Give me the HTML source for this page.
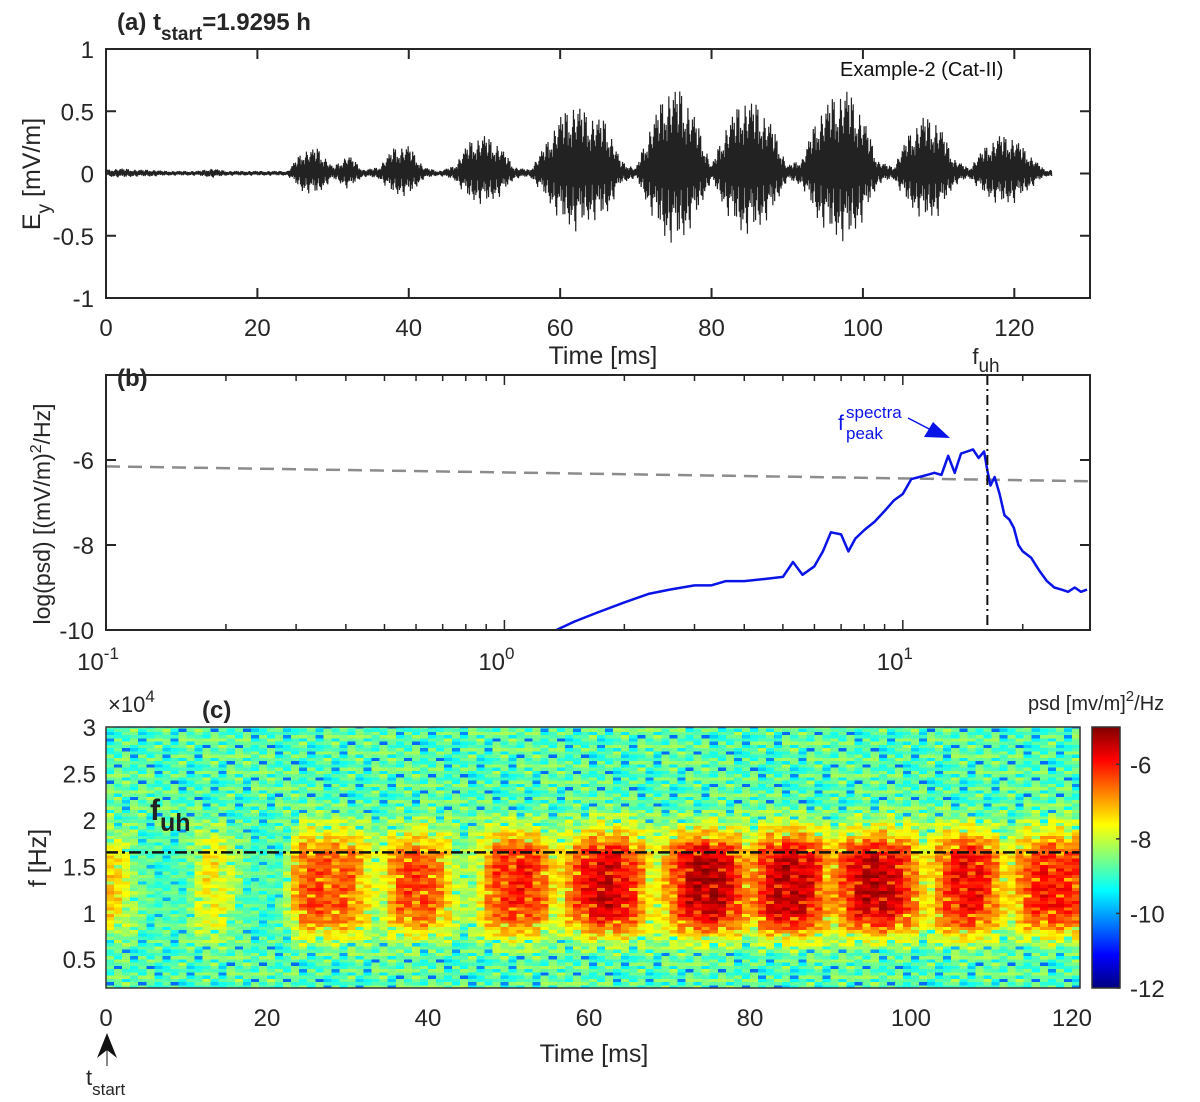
<!DOCTYPE html>
<html><head><meta charset="utf-8">
<style>
html,body{margin:0;padding:0;background:#fff;}
svg{display:block;font-family:"Liberation Sans",Arial,sans-serif;}
</style></head>
<body>
<svg id="fig" width="1200" height="1102" viewBox="0 0 1200 1102" xmlns="http://www.w3.org/2000/svg">
  <g id="pa"></g>
  <g id="pb"></g>
  <g id="pc"></g>
</svg>
<script>
// ---------- Panel (a) data: envelope amplitude of Ey every 2 ms ----------
const waveTimes = [0,2,4,6,8,10,12,14,16,18,20,22,24,26,28,30,32,34,36,38,40,42,44,46,48,50,52,54,56,58,60,62,64,66,68,70,72,74,76,78,80,82,84,86,88,90,92,94,96,98,100,102,104,106,108,110,112,114,116,118,120,122,124];
const waveEnv = [0.03,0.04,0.03,0.03,0.02,0.02,0.02,0.04,0.02,0.02,0.02,0.02,0.02,0.18,0.2,0.05,0.15,0.03,0.05,0.2,0.22,0.05,0.02,0.06,0.25,0.3,0.22,0.05,0.03,0.22,0.45,0.55,0.45,0.42,0.1,0.04,0.38,0.65,0.66,0.42,0.06,0.38,0.58,0.55,0.38,0.06,0.12,0.45,0.6,0.66,0.45,0.1,0.05,0.3,0.45,0.4,0.12,0.04,0.2,0.3,0.28,0.15,0.03];
const waveXTicks = [0,20,40,60,80,100,120];
const waveYTicks = [-1,-0.5,0,0.5,1];
const waveYLabels = ["-1","-0.5","0","0.5","1"];
const waveTexture = [1,0.6,0.85,0.5,0.95,0.7,0.45,0.9,0.65,0.8,0.55,1,0.6,0.75,0.4,0.85,0.7,0.5,0.95,0.6,0.8];

// ---------- Panel (b) data: log PSD vs frequency (kHz) ----------
const psdFreq = [1.35,1.5,1.7,2.0,2.3,2.6,3.0,3.3,3.6,4.0,4.5,5.0,5.3,5.6,6.0,6.3,6.6,7.0,7.3,7.6,8.0,8.5,9.0,9.5,10,10.5,11,11.5,12,12.5,13,13.5,14,14.5,15,15.5,16,16.3,16.6,17,17.5,18,18.5,19,19.5,20,21,22,23,24,25,26,27,28,29];
const psdVal  = [-10,-9.8,-9.6,-9.35,-9.15,-9.05,-8.95,-8.95,-8.85,-8.85,-8.8,-8.75,-8.4,-8.7,-8.5,-8.15,-7.7,-7.75,-8.15,-7.85,-7.65,-7.45,-7.2,-6.95,-6.8,-6.45,-6.4,-6.35,-6.3,-6.35,-5.9,-6.3,-5.85,-5.8,-5.75,-5.95,-5.8,-6.25,-6.6,-6.4,-6.8,-7.3,-7.4,-7.6,-8.0,-8.15,-8.3,-8.6,-8.85,-9.0,-9.05,-9.1,-9.0,-9.1,-9.05];
const psdYTicks = [-10,-8,-6];
const psdXTicks = [0.1,1,10];
const psdXLabels = [["10","-1"],["10","0"],["10","1"]];
const thresholdLine = [-6.15,-6.5];
const fuhKHz = 16.3;

// ---------- Panel (c) data: spectrogram ----------
const specTimes = [0,2,4,6,8,10,12,14,16,18,20,22,24,26,28,30,32,34,36,38,40,42,44,46,48,50,52,54,56,58,60,62,64,66,68,70,72,74,76,78,80,82,84,86,88,90,92,94,96,98,100,102,104,106,108,110,112,114,116,118,120];
const specPeak = [-7.2,-7.6,-8.6,-8.9,-8.9,-8.8,-7.6,-7.5,-8.3,-8.9,-8.9,-8.8,-6.6,-6.3,-6.5,-6.4,-7.2,-8.2,-6.6,-6.3,-6.4,-7,-8.4,-8,-6.4,-6.1,-6,-6.4,-7.8,-6.6,-5.8,-5.5,-5.7,-6.4,-7.9,-6.8,-5.7,-5.3,-5.4,-6,-7.2,-5.8,-5.4,-5.4,-5.9,-7.2,-6.2,-5.5,-5.4,-5.7,-6.4,-7.8,-6.4,-5.8,-5.8,-6.4,-7.8,-6.6,-6,-6,-6.2];
const specFreqs = [0.2,0.3,0.4,0.5,0.6,0.7,0.8,0.9,1.0,1.1,1.2,1.3,1.4,1.5,1.6,1.7,1.8,1.9,2.0,2.1,2.2,2.3,2.4,2.5,2.6,2.7,2.8,2.9,3.0];
const specProfile = [0,0,0,0,0.1,0.3,0.55,0.8,0.92,1,1,1,1,1,0.95,0.85,0.6,0.4,0.22,0.08,0,0,0,0,0,0,0,0,0];
const specBackground = -8.8;
const specTexture = [0.3,-0.4,0.55,-0.1,0.2,-0.7,0.45,-0.3,0.1,0.6,-0.2,-1.6,0.35,-0.5,0.25,-0.05,0.5,-0.35,0.15,-0.6,0.4,-0.9,0.05,0.3,-0.25,0.7,-0.15,0.0,-0.45,0.2,-1.4];
const specXTicks = [0,20,40,60,80,100,120];
const specYTicks = [0.5,1,1.5,2,2.5,3];
const specYLabels = ["0.5","1","1.5","2","2.5","3"];
const cbTicks = [-12,-10,-8,-6];
const fuhHz = 1.65;

const NS = "http://www.w3.org/2000/svg";
function mk(parent, tag, attrs, text){
  const e = document.createElementNS(NS, tag);
  for (const k in attrs) e.setAttribute(k, attrs[k]);
  if (text !== undefined) e.textContent = text;
  parent.appendChild(e);
  return e;
}
function interp(xs, ys, x){
  if (x <= xs[0]) return ys[0];
  for (let i=1;i<xs.length;i++){ if (x <= xs[i]){ const t=(x-xs[i-1])/(xs[i]-xs[i-1]); return ys[i-1]+t*(ys[i]-ys[i-1]); } }
  return ys[ys.length-1];
}
const TXT = "#262626";

// ================= Panel (a) =================
(function(){
  const g = document.getElementById('pa');
  const L=106, R=1090, T=49, B=298;
  const xs = v => L + v*(R-L)/130;
  const ys = v => T + (1-v)*(B-T)/2;
  let d = "";
  const step = 0.06; let k = 0;
  for (let t=0.2; t<=125; t+=step, k++){
    const a = interp(waveTimes, waveEnv, t) * waveTexture[k % waveTexture.length];
    const v = (k%2===0 ? a : -a*waveTexture[(k*3+5) % waveTexture.length]);
    d += (k===0?"M":"L") + xs(t).toFixed(2) + "," + ys(v).toFixed(2);
  }
  const w = mk(g,'path',{d:d, fill:'none', stroke:'#222', 'stroke-width':1.2});
  
  
  const box = mk(g,'rect',{x:L,y:T,width:R-L,height:B-T,fill:'none',stroke:TXT,'stroke-width':2});
   
  waveXTicks.forEach(v=>{
    mk(g,'line',{x1:xs(v),x2:xs(v),y1:B,y2:B-10,stroke:TXT,'stroke-width':2});
    mk(g,'line',{x1:xs(v),x2:xs(v),y1:T,y2:T+10,stroke:TXT,'stroke-width':2});
    const t = mk(g,'text',{x:xs(v),y:B+38,'text-anchor':'middle','font-size':24,fill:TXT},String(v));
     
  });
  waveYTicks.forEach((v,i)=>{
    mk(g,'line',{x1:L,x2:L+10,y1:ys(v),y2:ys(v),stroke:TXT,'stroke-width':2});
    mk(g,'line',{x1:R,x2:R-10,y1:ys(v),y2:ys(v),stroke:TXT,'stroke-width':2});
    const t = mk(g,'text',{x:L-12,y:ys(v)+9,'text-anchor':'end','font-size':24,fill:TXT},waveYLabels[i]);
     
  });
  const xl = mk(g,'text',{x:603,y:364,'text-anchor':'middle','font-size':25,fill:TXT},'Time [ms]');
   
  const yl = mk(g,'text',{transform:'translate(40,174) rotate(-90)','text-anchor':'middle','font-size':25,fill:TXT});
   
  yl.innerHTML = 'E<tspan dy="10" font-size="19">y</tspan><tspan dy="-10"> [mV/m]</tspan>';
  const ti = mk(g,'text',{x:117,y:30,'font-size':24,'font-weight':'bold',fill:TXT});
   
  ti.innerHTML = '(a) t<tspan dy="10" font-size="19">start</tspan><tspan dy="-10">=1.9295 h</tspan>';
  const ex = mk(g,'text',{x:840,y:76,'font-size':20,fill:'#111'},'Example-2 (Cat-II)');
   
})();

// ================= Panel (b) =================
(function(){
  const g = document.getElementById('pb');
  const L=106, R=1090, T=375, B=630;
  const lx0 = -1, lx1 = Math.log10(29.5);
  const xs = f => L + (Math.log10(f)-lx0)*(R-L)/(lx1-lx0);
  const ys = v => T + (-4 - v)*(B-T)/6;
  for (let dec=-1; dec<=1; dec++){
    for (let m=1; m<=9; m++){
      const f = m*Math.pow(10,dec); if (f>29.5) break;
      const len = m===1?10:6;
      mk(g,'line',{x1:xs(f),x2:xs(f),y1:B,y2:B-len,stroke:TXT,'stroke-width':1.5});
      mk(g,'line',{x1:xs(f),x2:xs(f),y1:T,y2:T+len,stroke:TXT,'stroke-width':1.5});
    }
  }
  const th = mk(g,'line',{x1:L,x2:R,y1:ys(thresholdLine[0]),y2:ys(thresholdLine[1]),stroke:'#8c8c8c','stroke-width':2.5,'stroke-dasharray':'14,8'});
   
  let d="";
  psdFreq.forEach((f,i)=>{ d += (i?"L":"M")+xs(f).toFixed(1)+","+ys(psdVal[i]).toFixed(1); });
  const pl = mk(g,'path',{d:d,fill:'none',stroke:'#0a14e6','stroke-width':2.5,'stroke-linejoin':'round'});
   
  const fl = mk(g,'line',{x1:xs(fuhKHz),x2:xs(fuhKHz),y1:T,y2:B,stroke:'#111','stroke-width':2,'stroke-dasharray':'10,4,2,4'});
   
  const ft = mk(g,'text',{x:xs(fuhKHz)-15,y:364,'font-size':22,fill:TXT});
   
  ft.innerHTML='f<tspan dy="8" font-size="19">uh</tspan>';
  const box = mk(g,'rect',{x:L,y:T,width:R-L,height:B-T,fill:'none',stroke:TXT,'stroke-width':2});
   
  psdYTicks.forEach(v=>{
    mk(g,'line',{x1:L,x2:L+10,y1:ys(v),y2:ys(v),stroke:TXT,'stroke-width':2});
    mk(g,'line',{x1:R,x2:R-10,y1:ys(v),y2:ys(v),stroke:TXT,'stroke-width':2});
    const t = mk(g,'text',{x:L-12,y:ys(v)+9,'text-anchor':'end','font-size':24,fill:TXT},String(v));
     
  });
  psdXTicks.forEach((f,i)=>{
    const t = mk(g,'text',{x:xs(f)-8,y:B+40,'text-anchor':'middle','font-size':24,fill:TXT});
     
    t.innerHTML = psdXLabels[i][0]+'<tspan dy="-11" font-size="17">'+psdXLabels[i][1]+'</tspan>';
  });
  const yl = mk(g,'text',{transform:'translate(50,514) rotate(-90)','text-anchor':'middle','font-size':23,fill:TXT});
   
  yl.innerHTML='log(psd) [(mV/m)<tspan dy="-9" font-size="16">2</tspan><tspan dy="9">/Hz]</tspan>';
  const ti = mk(g,'text',{x:117,y:386,'font-size':24,'font-weight':'bold',fill:TXT},'(b)');
   
  const pk = mk(g,'text',{x:838,y:430,'font-size':21,fill:'#0a14e6'});
   
  pk.innerHTML='f<tspan x="846" y="418" font-size="17">spectra</tspan><tspan x="846" y="439" font-size="17">peak</tspan>';
  mk(g,'line',{x1:908,y1:418,x2:935,y2:432,stroke:'#0a14e6','stroke-width':1.5});
  const ah = mk(g,'polygon',{points:'924,437 950,438 933,422',fill:'#0a14e6'});
   
})();

// ================= Panel (c) =================
function jet(v){
  const c = x => Math.max(0, Math.min(1, x));
  const r = c(1.5 - Math.abs(4*v - 3)), g = c(1.5 - Math.abs(4*v - 2)), b = c(1.5 - Math.abs(4*v - 1));
  return 'rgb('+Math.round(r*255)+','+Math.round(g*255)+','+Math.round(b*255)+')';
}
(function(){
  const g = document.getElementById('pc');
  const L=106, R=1080, T=727, B=988;
  const fMin=0.19, fMax=3.0, tMax=121;
  const xs = t => L + t*(R-L)/tMax;
  const ys = f => B - (f-fMin)*(B-T)/(fMax-fMin);
  const cmin=-12, cmax=-5;
  const cells = mk(g,'g',{'shape-rendering':'crispEdges'});
   
  const dt = 1, df = 0.035;
  let i=0;
  for (let t=0; t<tMax; t+=dt, i++){
    let j=0;
    for (let f=fMin; f<fMax; f+=df, j++){
      const pk = interp(specTimes, specPeak, t+0.5);
      const pr = interp(specFreqs, specProfile, f+df/2);
      const tex = specTexture[(j*11 + i*7 + Math.floor(i/3)*3) % specTexture.length];
      let v = specBackground + (pk - specBackground)*pr + tex*(1-0.35*pr);
      const n = (v - cmin)/(cmax-cmin);
      const y1 = ys(Math.min(f+df,fMax));
      mk(cells,'rect',{x:xs(t).toFixed(2),y:y1.toFixed(2),width:((R-L)/tMax*dt+0.6).toFixed(2),height:(ys(f)-y1+0.6).toFixed(2),fill:jet(Math.max(0,Math.min(1,n)))});
    }
  }
  const fl = mk(g,'line',{x1:L,x2:R,y1:ys(fuhHz),y2:ys(fuhHz),stroke:'#111','stroke-width':2.5,'stroke-dasharray':'12,4,3,4'});
   
  const box = mk(g,'rect',{x:L,y:T,width:R-L,height:B-T,fill:'none',stroke:'#333','stroke-width':1.5});
   
  specXTicks.forEach(v=>{
    const t = mk(g,'text',{x:xs(v),y:B+38,'text-anchor':'middle','font-size':24,fill:TXT},String(v));
     
  });
  specYTicks.forEach((v,i)=>{
    const t = mk(g,'text',{x:L-10,y:ys(v)+9,'text-anchor':'end','font-size':24,fill:TXT},specYLabels[i]);
     
  });
  const ex = mk(g,'text',{x:108,y:712,'font-size':22,fill:TXT});
   
  ex.innerHTML='×10<tspan dy="-10" font-size="17">4</tspan>';
  const ti = mk(g,'text',{x:202,y:718,'font-size':24,'font-weight':'bold',fill:TXT},'(c)');
   
  const fu = mk(g,'text',{x:150,y:820,'font-size':30,'font-weight':'bold',fill:'#222'});
   
  fu.innerHTML='f<tspan dy="11" font-size="25">uh</tspan>';
  const xl = mk(g,'text',{x:594,y:1062,'text-anchor':'middle','font-size':25,fill:TXT},'Time [ms]');
   
  const yl = mk(g,'text',{transform:'translate(46,858) rotate(-90)','text-anchor':'middle','font-size':25,fill:TXT},'f [Hz]');
   
  const ar = mk(g,'polygon',{points:'107,1033 97,1058 107,1050 117,1058',fill:'#111'});
   
  mk(g,'line',{x1:107,y1:1050,x2:107,y2:1066,stroke:'#111','stroke-width':1});
  const ts = mk(g,'text',{x:86,y:1085,'font-size':22,fill:TXT});
   
  ts.innerHTML='t<tspan dy="10" font-size="17">start</tspan>';
  const CL=1092, CR=1120, cy = v => T + (cmax - v)*(B-T)/(cmax-cmin);
  const cb = mk(g,'g',{});
   
  for (let y=T; y<B; y+=1){
    const v = cmax - (y-T+0.5)*(cmax-cmin)/(B-T);
    mk(cb,'rect',{x:CL,y:y,width:CR-CL,height:1.3,fill:jet((v-cmin)/(cmax-cmin))});
  }
  mk(cb,'rect',{x:CL,y:T,width:CR-CL,height:B-T,fill:'none',stroke:'#333','stroke-width':1.5});
  cbTicks.forEach(v=>{
    mk(cb,'line',{x1:CR-4,x2:CR,y1:cy(v),y2:cy(v),stroke:'#333','stroke-width':1.5});
    const t = mk(cb,'text',{x:CR+10,y:cy(v)+9,'font-size':24,fill:TXT},String(v));
     
  });
  const ct = mk(g,'text',{x:1028,y:710,'font-size':20,fill:TXT});
   
  ct.innerHTML='psd [mv/m]<tspan dy="-9" font-size="15">2</tspan><tspan dy="9">/Hz</tspan>';
})();
</script>
</body></html>
